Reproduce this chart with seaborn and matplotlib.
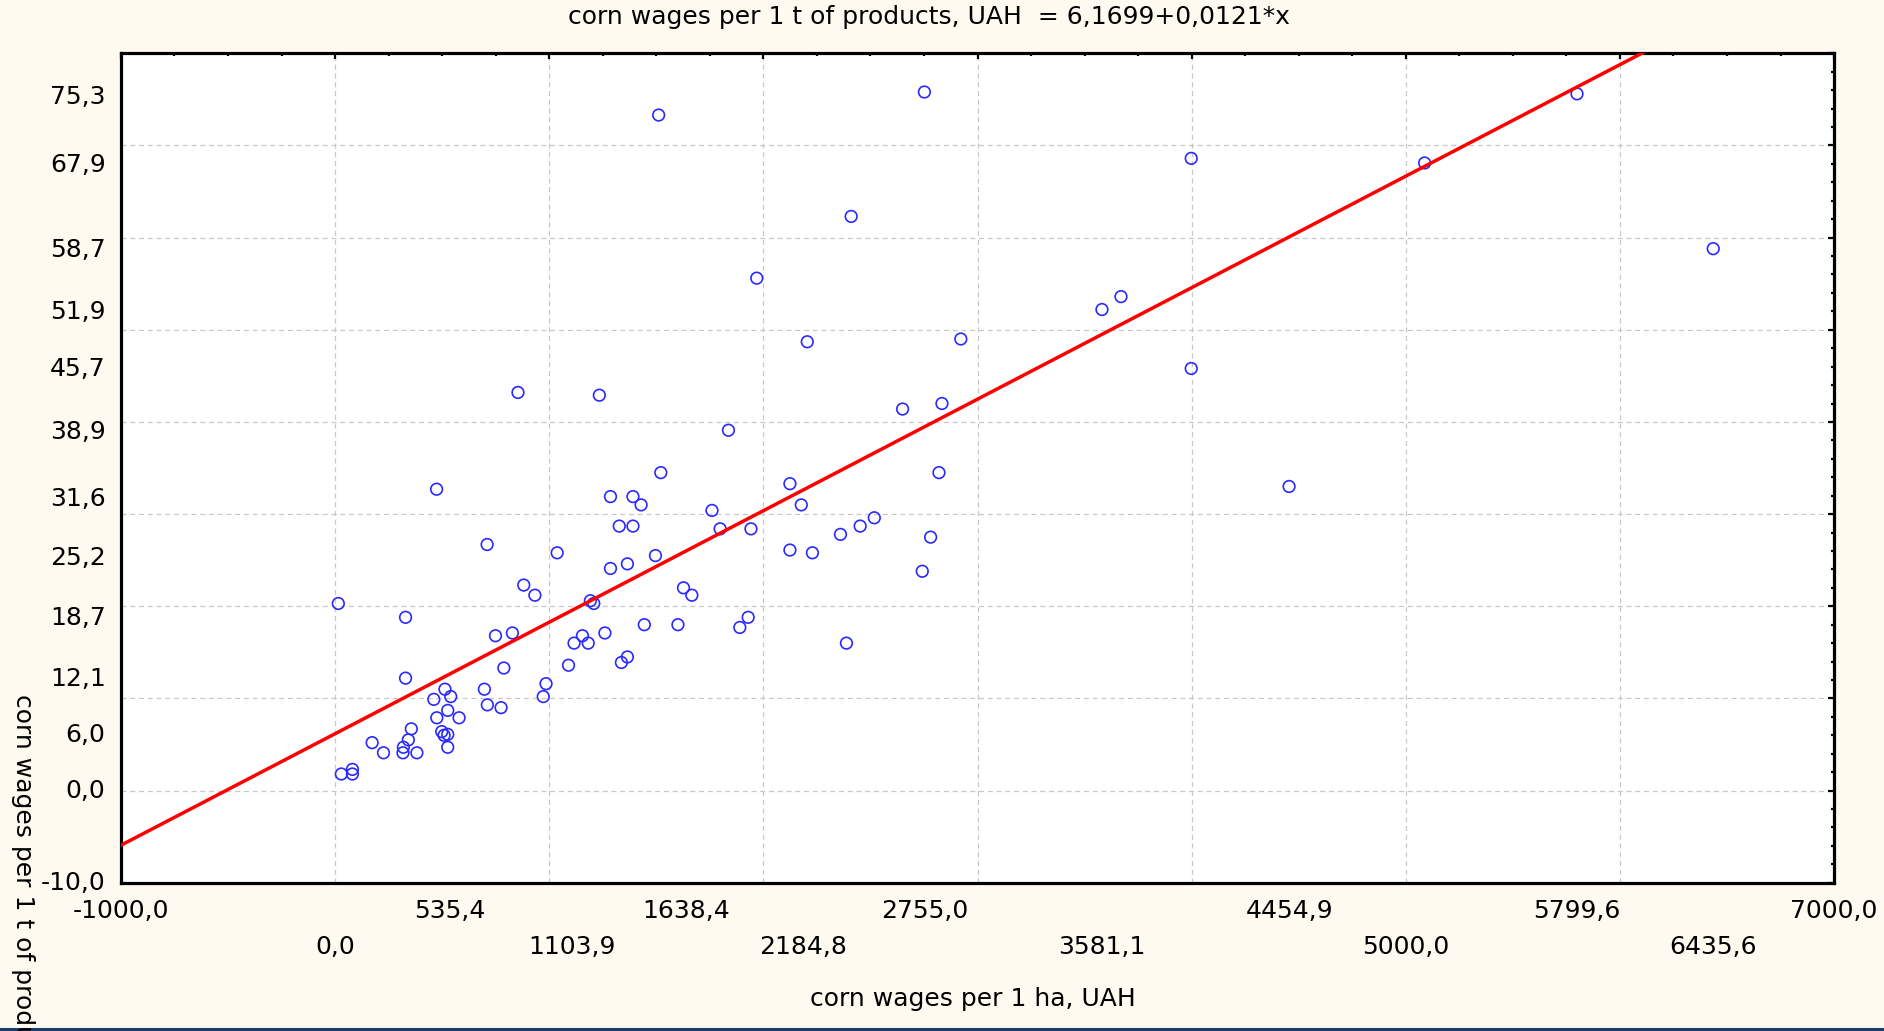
import numpy as np
import pandas as pd
import matplotlib
matplotlib.use("Agg")
import matplotlib.pyplot as plt
import seaborn as sns
from matplotlib.ticker import MultipleLocator
from matplotlib.lines import Line2D

# ---- data ----
wages_per_ha = [
    329, 749, 828, 329, 788, 513, 461, 540, 697, 711, 775, 526, 475, 579, 356,
    498, 509, 526, 526, 342, 319, 317, 382, 173, 226, 29, 81, 81, 985, 972,
    1090, 1116, 1155, 1182, 1260, 1337, 1365, 1444, 1601, 1890, 1929,
    854, 1234, 1837, 474, 1521, 2124, 1286, 1391, 1429, 1760, 2177, 1327, 1391,
    1798, 1942, 710, 1037, 1496, 2124, 2229, 1286, 1365, 881, 933, 1192, 1208,
    1627, 1666, 15,
    2650, 2834, 2820, 4454.9, 2518, 2452, 2360, 2781, 2742, 2388,
    1511, 2752, 3998, 2410, 1969, 3670, 3581.1, 2205, 2922, 3998,
    5799.6, 5088, 6435.6,
]
wages_per_t = [
    18.8, 16.8, 17.1, 12.2, 13.3, 11.0, 9.9, 10.2, 11.0, 9.3, 9.0, 8.7, 7.9, 7.9, 6.7,
    6.4, 6.0, 6.1, 4.7, 5.5, 4.7, 4.1, 4.1, 5.2, 4.1, 1.8, 2.3, 1.8, 11.6, 10.2,
    13.6, 16.0, 16.8, 16.0, 17.1, 13.9, 14.5, 18.0, 18.0, 17.7, 18.8,
    43.2, 42.9, 39.1, 32.7, 34.5, 33.3, 31.9, 31.9, 31.0, 30.4, 31.0, 28.7, 28.7,
    28.4, 28.4, 26.7, 25.8, 25.5, 26.1, 25.8, 24.1, 24.6, 22.3, 21.2, 20.6, 20.3,
    22.0, 21.2, 20.3,
    41.4, 42.0, 34.5, 33.0, 29.6, 28.7, 27.8, 27.5, 23.8, 16.0,
    73.3, 75.8, 68.6, 62.3, 55.6, 53.6, 52.2, 48.7, 49.0, 45.8,
    75.6, 68.1, 58.8,
]
x_labels_row1 = [-1000.0, 535.4, 1638.4, 2755.0, 4454.9, 5799.6, 7000.0]
x_labels_row2 = [0.0, 1103.9, 2184.8, 3581.1, 5000.0, 6435.6]
y_labels = [-10.0, 0.0, 6.0, 12.1, 18.7, 25.2, 31.6, 38.9, 45.7, 51.9, 58.7, 67.9, 75.3]
fit_intercept = 6.1699
fit_slope = 0.0121
x_range = [-1000.0, 7000.0]
y_range = [-10.0, 80.0]

title_text = "corn wages per 1 t of products, UAH  = 6,1699+0,0121*x"
x_title = "corn wages per 1 ha, UAH"
y_title = "corn wages per 1 t of products, UAH"


def fmt(v):
    return f"{v:.1f}".replace(".", ",")


sns.set_theme(style="white")
plt.rcParams['font.family'] = ['DejaVu Sans']
plt.rcParams['text.color'] = 'black'

fig = plt.figure(figsize=(18.84, 10.31), dpi=100, facecolor='#FFFAF0')
ax = fig.add_axes([0.0642, 0.1438, 0.9093, 0.8045])
ax.set_facecolor('white')

df = pd.DataFrame({"x": wages_per_ha, "y": wages_per_t})
sns.scatterplot(data=df, x="x", y="y", ax=ax, marker="o", s=70,
                facecolor="none", edgecolor="#2a2aff", linewidth=1.2, zorder=3)

line_x = np.array(x_range)
line_df = pd.DataFrame({"x": line_x, "y": fit_intercept + fit_slope * line_x})
sns.lineplot(data=line_df, x="x", y="y", ax=ax, color="#ff0000", linewidth=2.5, zorder=4)

ax.set_xlim(*x_range)
ax.set_ylim(*y_range)
ax.xaxis.set_major_locator(MultipleLocator(1000))
ax.xaxis.set_minor_locator(MultipleLocator(250))
ax.yaxis.set_major_locator(MultipleLocator(10))
ax.yaxis.set_minor_locator(MultipleLocator(2))
ax.grid(True, which="major", color="#c8c8c8", linestyle=(0, (4, 3)), linewidth=0.9)
ax.set_axisbelow(True)
ax.tick_params(which="both", direction="in", top=True, right=True,
               labelbottom=False, labelleft=False, color="black")
ax.tick_params(which="major", length=4.5, width=1.6)
ax.tick_params(which="minor", length=2.5, width=1.6)
for sp in ax.spines.values():
    sp.set_color("black")
    sp.set_linewidth(2.3)
ax.set_xlabel("")
ax.set_ylabel("")

fs = 18
xt = ax.get_xaxis_transform()
for v in x_labels_row1:
    ax.text(v, -0.034, fmt(v), transform=xt, ha="center", va="center", fontsize=fs, clip_on=False)
for v in x_labels_row2:
    ax.text(v, -0.077, fmt(v), transform=xt, ha="center", va="center", fontsize=fs, clip_on=False)
yt = ax.get_yaxis_transform()
for v in y_labels:
    ax.text(-0.009, v, fmt(v), transform=yt, ha="right", va="center", fontsize=fs, clip_on=False)

fig.text(0.493, 0.9837, title_text, ha="center", va="center", fontsize=fs)
fig.text(0.5163, 0.031, x_title, ha="center", va="center", fontsize=fs)
fig.text(0.0124, 0.3269, y_title, ha="center", va="top", rotation=270, fontsize=fs)

fig.add_artist(Line2D([0, 1], [0.0015, 0.0015], color="#1c3c6c", lw=2.2,
                      transform=fig.transFigure))

fig.savefig("out.png", dpi=100, facecolor=fig.get_facecolor())
